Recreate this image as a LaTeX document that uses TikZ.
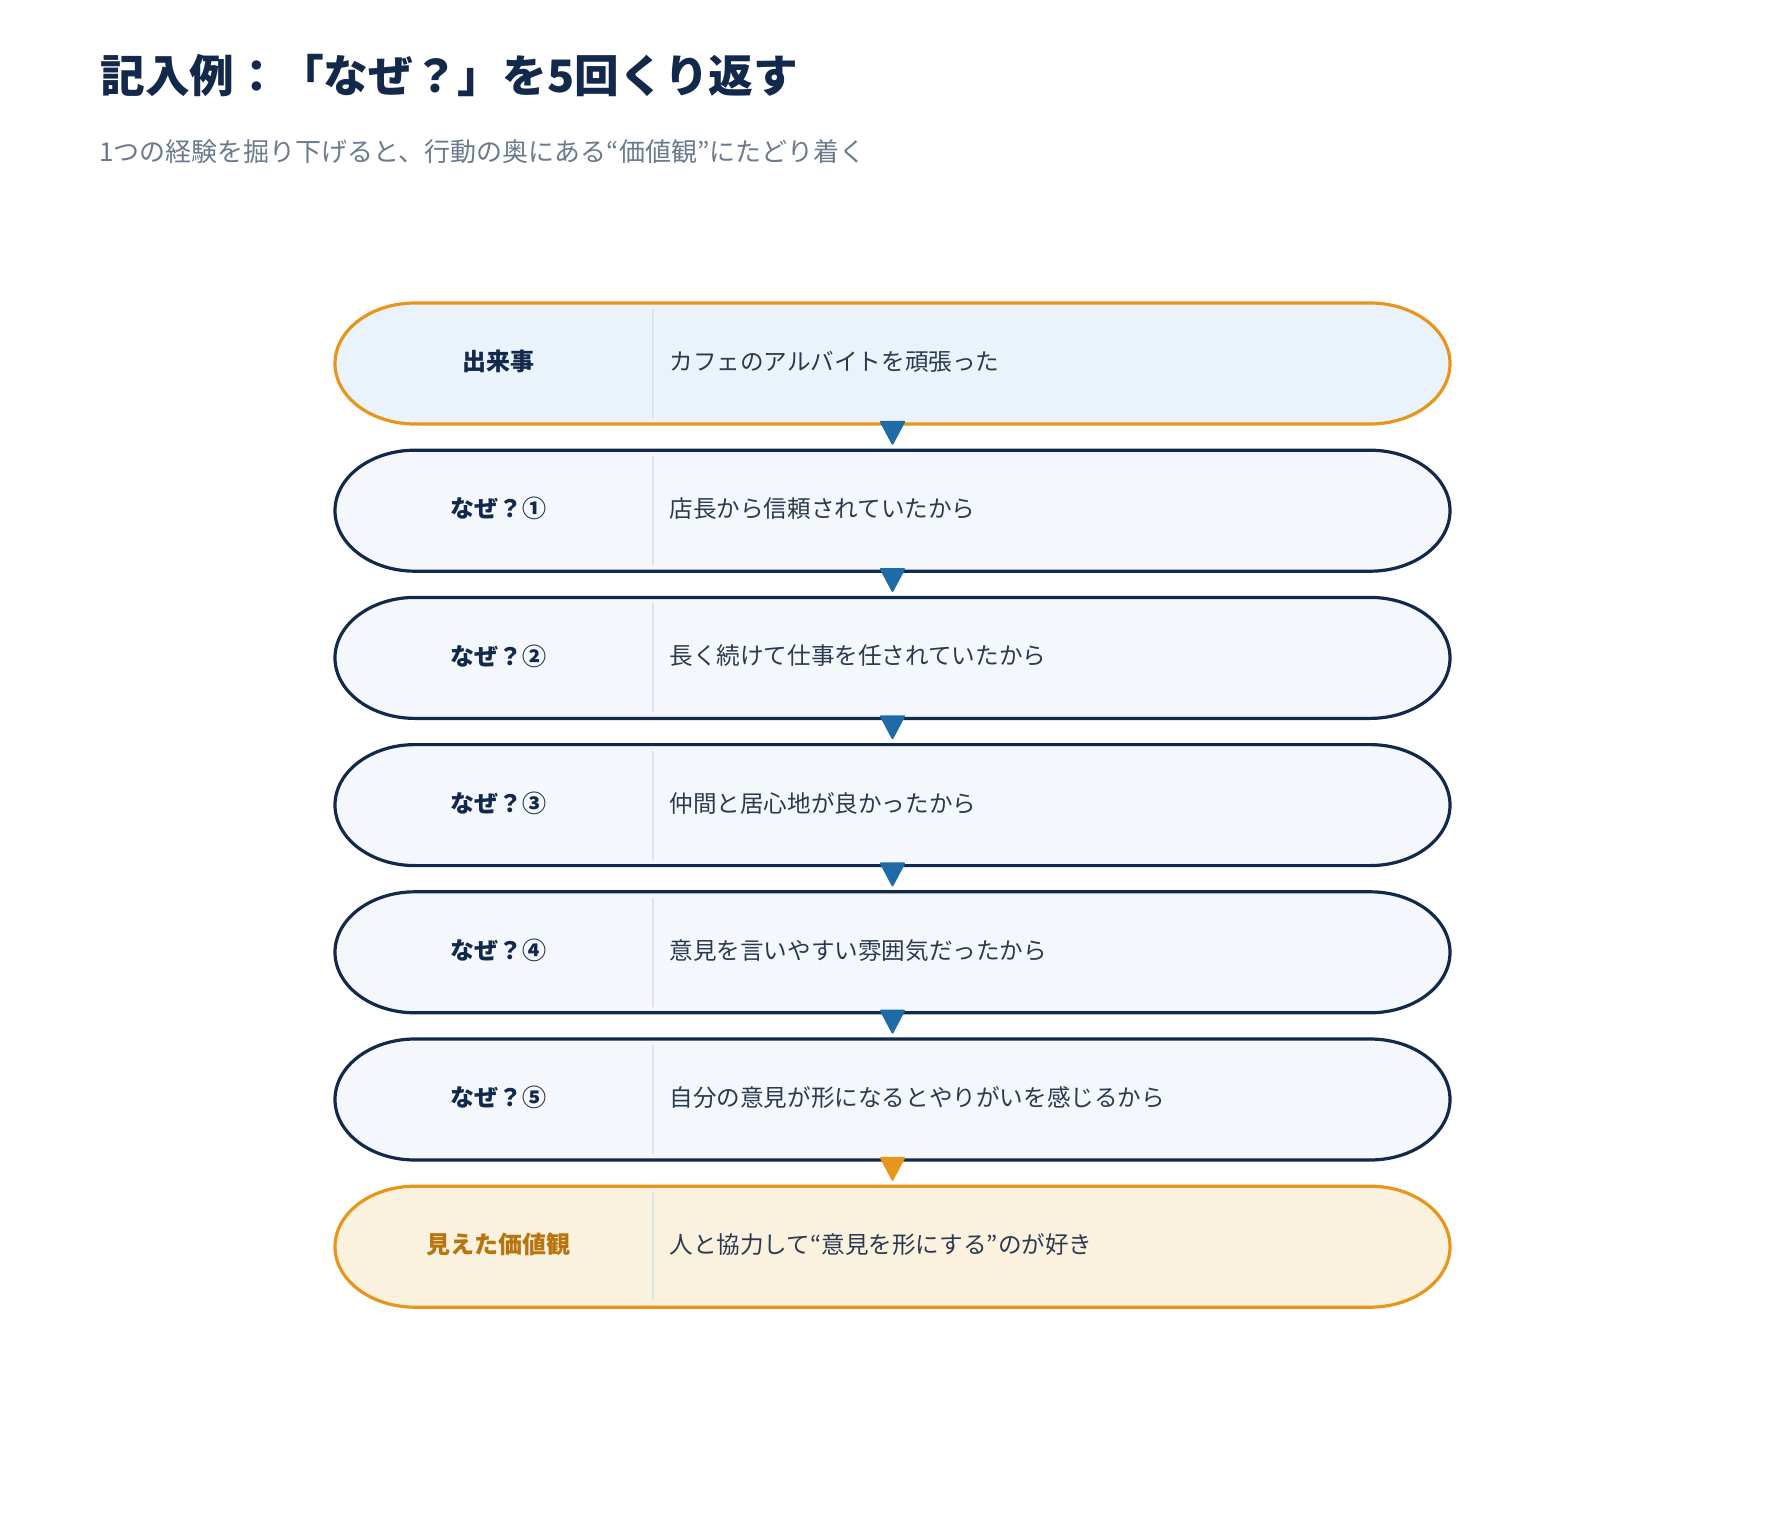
\documentclass[tikz,border=0pt]{standalone}
\usepackage{fontspec}
\setmainfont{Noto Sans CJK JP}
\usetikzlibrary{arrows.meta}
\definecolor{navyline}{HTML}{13294B}
\definecolor{orangeline}{HTML}{E8951C}
\definecolor{eventfill}{HTML}{EAF2FB}
\definecolor{whyfill}{HTML}{F4F8FD}
\definecolor{valuefill}{HTML}{FBF1DF}
\definecolor{dividerline}{HTML}{DCE4EE}
\definecolor{arrowblue}{HTML}{1F6BA8}
\definecolor{bodytext}{HTML}{2B3A4F}
\definecolor{subtext}{HTML}{6B7A8C}
\definecolor{valuetext}{HTML}{B8740F}
\tikzset{
	rowstyle/.style={rectangle,minimum width=557.5pt,minimum height=60.5pt,inner sep=0pt,outer sep=0pt},
	eventstyle/.style={draw=orangeline,fill=eventfill,line width=1.6pt},
	whystyle/.style={draw=navyline,fill=whyfill,line width=1.6pt},
	valuestyle/.style={draw=orangeline,fill=valuefill,line width=1.6pt},
	headstyle/.style={inner sep=0pt,font=\bfseries\fontsize{12}{14}\selectfont,text=navyline},
	textstyle/.style={anchor=west,inner sep=0pt,font=\fontsize{11.8}{14}\selectfont,text=bodytext},
	dividerstyle/.style={draw=dividerline,line width=1pt},
	steparrow/.style={draw=arrowblue,line width=1pt,shorten <=-3pt,shorten >=2.75pt,-{Triangle[length=12.5pt,width=13pt,round]}}
}
% outline of one row: elliptic ends round the named node
\newcommand{\rowoutline}[2]{%
	\path[#1] ([xshift=40pt]#2.north west) -- ([xshift=-40pt]#2.north east)
		arc[start angle=90,end angle=-90,x radius=40pt,y radius=30.25pt]
		-- ([xshift=40pt]#2.south west)
		arc[start angle=270,end angle=90,x radius=40pt,y radius=30.25pt] -- cycle;
	\draw[dividerstyle] ([xshift=158.85pt,yshift=-3pt]#2.north west) -- ([xshift=158.85pt,yshift=3pt]#2.south west);
}

\begin{document}
\begin{tikzpicture}[x=0.5pt,y=-0.5pt]
	\path[fill=white] (0,0) rectangle (1785,1530);
	\useasboundingbox (0,0) rectangle (1785,1530);
	% heading
	\node[anchor=west,inner sep=0pt,font=\bfseries\fontsize{22.35}{26}\selectfont,text=navyline] (title) at (100,76) {記入例：「なぜ？」を5回くり返す};
	\node[anchor=west,inner sep=0pt,font=\fontsize{13}{15}\selectfont,text=subtext] (subtitle) at (99,151.5) {1つの経験を掘り下げると、行動の奥にある“価値観”にたどり着く};
	% rows
	\node[rowstyle] (b0) at (892.5,363.5) {};
	\node[rowstyle] (b1) at (892.5,510.7) {};
	\node[rowstyle] (b2) at (892.5,657.9) {};
	\node[rowstyle] (b3) at (892.5,805.1) {};
	\node[rowstyle] (b4) at (892.5,952.3) {};
	\node[rowstyle] (b5) at (892.5,1099.5) {};
	\node[rowstyle] (b6) at (892.5,1246.7) {};
	\rowoutline{eventstyle}{b0}
	\rowoutline{whystyle}{b1}
	\rowoutline{whystyle}{b2}
	\rowoutline{whystyle}{b3}
	\rowoutline{whystyle}{b4}
	\rowoutline{whystyle}{b5}
	\rowoutline{valuestyle}{b6}
	% labels
	\node[headstyle] (h0) at (498,361.5) {出来事};
	\node[headstyle] (h1) at (498,508.7) {なぜ？①};
	\node[headstyle] (h2) at (498,655.9) {なぜ？②};
	\node[headstyle] (h3) at (498,803.1) {なぜ？③};
	\node[headstyle] (h4) at (498,950.3) {なぜ？④};
	\node[headstyle] (h5) at (498,1097.5) {なぜ？⑤};
	\node[headstyle,text=valuetext] (h6) at (498,1244.7) {見えた価値観};
	\node[textstyle] (t0) at (669,361.5) {カフェのアルバイトを頑張った};
	\node[textstyle] (t1) at (669,508.7) {店長から信頼されていたから};
	\node[textstyle] (t2) at (669,655.9) {長く続けて仕事を任されていたから};
	\node[textstyle] (t3) at (669,803.1) {仲間と居心地が良かったから};
	\node[textstyle] (t4) at (669,950.3) {意見を言いやすい雰囲気だったから};
	\node[textstyle] (t5) at (669,1097.5) {自分の意見が形になるとやりがいを感じるから};
	\node[textstyle] (t6) at (669,1244.7) {人と協力して“意見を形にする”のが好き};
	% arrows
	\draw[steparrow] (b0.south) -- (b1.north);
	\draw[steparrow] (b1.south) -- (b2.north);
	\draw[steparrow] (b2.south) -- (b3.north);
	\draw[steparrow] (b3.south) -- (b4.north);
	\draw[steparrow] (b4.south) -- (b5.north);
	\draw[steparrow,draw=orangeline] (b5.south) -- (b6.north);
\end{tikzpicture}
\end{document}
